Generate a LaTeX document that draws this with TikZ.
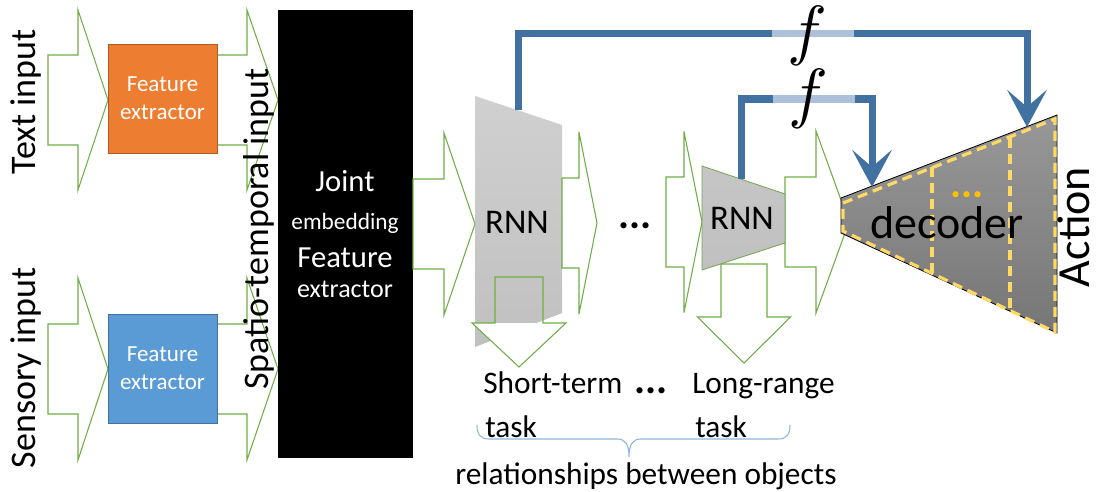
\documentclass[tikz,border=0pt]{standalone}
\usepackage[no-math]{fontspec}
\setmainfont{Carlito}
\usetikzlibrary{arrows.meta}
\definecolor{garrow}{HTML}{70AD47}
\definecolor{orangeF}{HTML}{ED7D31}
\definecolor{orangeB}{HTML}{AE5A21}
\definecolor{blueF}{HTML}{5B9BD5}
\definecolor{blueB}{HTML}{41719C}
\definecolor{linkC}{RGB}{65,113,160}
\definecolor{linkL}{RGB}{172,192,218}
\definecolor{dashC}{HTML}{FFD966}
\definecolor{dotsC}{HTML}{FFC000}
\definecolor{braceC}{HTML}{8FB4DE}
\definecolor{rnnTop}{RGB}{208,208,208}
\definecolor{rnnBot}{RGB}{192,192,192}
\definecolor{decTop}{RGB}{152,152,152}
\definecolor{decBot}{RGB}{118,118,118}
\tikzset{
  garrowstyle/.style={draw=garrow, line width=0.8pt, line join=miter},
  fbox/.style={draw, line width=0.6pt, inner sep=0pt, minimum width=81.75pt, minimum height=81.75pt,
     text=white, align=center, font=\fontsize{17.25}{21}\selectfont},
  vlabel/.style={rotate=90, anchor=base, inner sep=0pt, font=\fontsize{27}{27}\selectfont},
  lbl/.style={inner sep=0pt, font=\fontsize{23.5}{23.5}\selectfont},
  rnnlbl/.style={anchor=base, inner sep=0pt, font=\fontsize{26}{26}\selectfont},
  dotslbl/.style={anchor=base, inner sep=0pt, font=\fontsize{31}{31}\selectfont\bfseries},
  linkline/.style={draw=linkC, line width=5.25pt, line join=miter},
  linklight/.style={draw=linkL, line width=5.25pt},
  linktip/.style={-{Stealth[length=28pt, width=30pt, inset=13pt, line width=0pt]}},
  yellowdash/.style={draw=dashC, line width=2.4pt, dash pattern=on 7.5pt off 4.5pt},
  flbl/.style={anchor=base, inner sep=0pt, scale=5.0}
}
% right block arrow: x0, x1 (head start), x2 (tip), yc, shaft half, head half
\newcommand{\myRightArrow}[6]{%
  \draw[garrowstyle] (#1,#4-#5) -- (#2,#4-#5) -- (#2,#4-#6) -- (#3,#4) -- (#2,#4+#6) -- (#2,#4+#5) -- (#1,#4+#5) -- cycle;}
% down block arrow: xc, y0, y1 (head start), y2 (tip), shaft half, head half
\newcommand{\myDownArrow}[6]{%
  \fill[white] (#1-#6,#3) -- (#1+#6,#3) -- (#1,#4) -- cycle;
  \draw[garrowstyle] (#1-#5,#2) -- (#1+#5,#2) -- (#1+#5,#3) -- (#1+#6,#3) -- (#1,#4) -- (#1-#6,#3) -- (#1-#5,#3) -- cycle;}
\begin{document}
\begin{tikzpicture}[x=0.75pt,y=-0.75pt]
\useasboundingbox (0,0) rectangle (1099,492);

% ---- input stage ----
\myRightArrow{48}{78}{108}{100}{45}{90}
\myRightArrow{217}{247}{278}{100}{45}{90}
\myRightArrow{48}{78}{108}{369}{45}{91}
\myRightArrow{217}{247}{278}{369}{45}{91}

\node[fbox, fill=orangeF, draw=orangeB] (feText) at (162.5,98.5) {Feature\\extractor};
\node[fbox, fill=blueF, draw=blueB] (feSens) at (162.5,368.5) {Feature\\extractor};

\node[fill=black, inner sep=0pt, minimum width=101.25pt, minimum height=336pt] (joint) at (345.5,234) {};
\node[inner sep=0pt, text=white, align=center, font=\fontsize{23}{28.5}\selectfont] (jointTxt) at (345,234)
  {Joint\\{\fontsize{17.5}{28.5}\selectfont embedding}\\Feature\\[-5.5pt]{\fontsize{19.5}{28.5}\selectfont extractor}};

\node[vlabel] (textIn) at (35,102) {Text input};
\node[vlabel] (sensIn) at (35,368) {Sensory input};
\node[vlabel] (stIn) at (268,229) {Spatio-temporal input};

% ---- RNN 1 ----
\myRightArrow{413}{444}{475}{224}{45}{91}
\shade[top color=rnnTop, bottom color=rnnBot] (475,96) -- (562,125) -- (562,313) -- (475,347) -- cycle;
\coordinate (r1top) at (518,110);
\node[rnnlbl] (rnn1) at (517,233) {RNN};
\myRightArrow{562}{579}{597}{223}{45}{91}
\myDownArrow{519}{277}{323}{367}{24}{47}
\node[dotslbl] (midDots) at (635,228) {...};

% ---- RNN 2 ----
\myRightArrow{666}{684}{702}{222}{45}{90.5}
\myDownArrow{744}{264}{317}{363}{23}{46.5}
\myRightArrow{785}{816}{849}{222}{45}{91}
\shade[top color=rnnTop!95!black, bottom color=rnnBot, draw=garrow!80!gray, line width=0.6pt] (702,166) -- (785,194) -- (785,243) -- (702,270) -- cycle;
\coordinate (r2top) at (741,179);
\node[rnnlbl] (rnn2) at (742,229) {RNN};

% ---- decoder ----
\shade[top color=decTop, bottom color=decBot, draw=black, line width=0.6pt] (841,198) -- (1057,115) -- (1057,333) -- (841,233) -- cycle;
\draw[yellowdash] (843,203) -- (1055,119) -- (1055,332) -- (843,231) -- cycle;
\draw[yellowdash] (932,167) -- (932,273);
\draw[yellowdash] (1010,138) -- (1010,314);
\coordinate (decIn1) at (872,187);
\coordinate (decIn2) at (1027,127);
\node[anchor=base, inner sep=0pt, font=\fontsize{34.5}{34.5}\selectfont] (dec) at (947,238) {decoder};
\node[dotslbl, text=dotsC] (decDots) at (967,197) {...};
\node[vlabel, font=\fontsize{34.5}{34.5}\selectfont] (action) at (1089,227) {Action};

% ---- skip connections ----
\draw[linkline, linktip] (r1top) -- (518,34) -- (1027,34) -- (decIn2);
\draw[linklight] (772,34) -- (854,34);
\draw[linkline, linktip] (r2top) -- (741,99) -- (872,99) -- (decIn1);
\draw[linklight] (773,99) -- (855,99);
\node[flbl] (f1) at (807,53) {$f$};
\node[flbl] (f2) at (808,115) {$f$};

% ---- bottom labels ----
\node[lbl, anchor=base west] (shortT) at (483,393) {Short-term};
\node[dotslbl] (botDots) at (651,393) {...};
\node[lbl, anchor=base west] (longR) at (692,393) {Long-range};
\node[lbl, anchor=base west] (task1) at (485,437) {task};
\node[lbl, anchor=base west] (task2) at (695,437) {task};
\draw[braceC, line width=0.8pt] (477,425) .. controls (477,434) and (480,439) .. (489,439) -- (617,439)
   .. controls (625,439) and (629,444) .. (629,457) .. controls (629,444) and (633,439) .. (641,439)
   -- (778,439) .. controls (787,439) and (790,434) .. (790,425);
\node[lbl, anchor=base] (rel) at (646,484) {relationships between objects};
\end{tikzpicture}
\end{document}
